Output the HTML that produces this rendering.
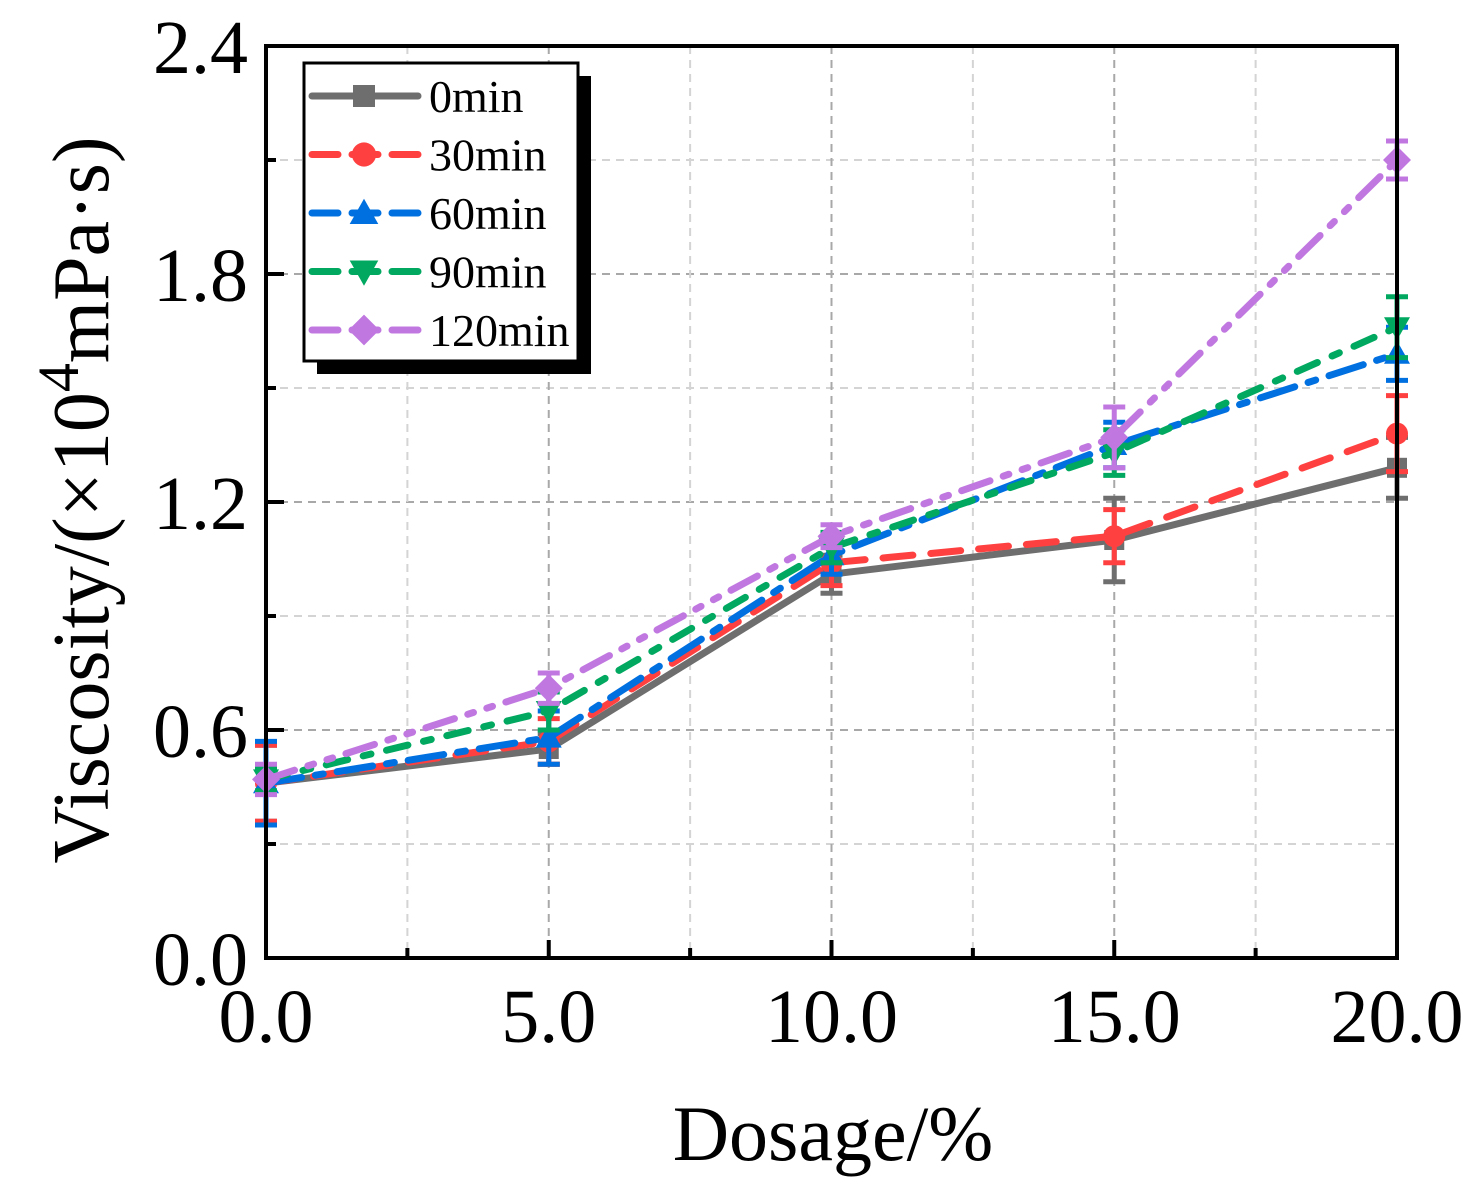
<!DOCTYPE html>
<html><head><meta charset="utf-8"><style>
html,body{margin:0;padding:0;background:#fff}
svg{display:block;font-family:"Liberation Serif",serif}
</style></head><body>
<svg id="chart" width="1480" height="1201" viewBox="0 0 1480 1201">
<g id="grid"></g>
<g id="series"></g>
<g id="axes"></g>
<text x="833" y="1160" font-size="78" text-anchor="middle">Dosage/%</text>
<text transform="translate(108,500) rotate(-90)" font-size="80" text-anchor="middle">Viscosity/(×10<tspan dy="-30" font-size="58">4</tspan><tspan dy="30">mPa·s)</tspan></text>
<g id="legend"></g>
</svg>
<script>
const xValues=[0,5,10,15,20];
const seriesNames=["0min","30min","60min","90min","120min"];
const s0=[0.46,0.55,1.01,1.10,1.29];
const s30=[0.46,0.57,1.04,1.11,1.38];
const s60=[0.46,0.58,1.06,1.35,1.59];
const s90=[0.47,0.65,1.08,1.33,1.66];
const s120=[0.47,0.71,1.11,1.37,2.10];
const e0=[0.10,0.04,0.05,0.11,0.08];
const e30=[0.10,0.06,0.06,0.07,0.10];
const e60=[0.11,0.07,0.05,0.06,0.07];
const e90=[0.03,0.05,0.04,0.06,0.08];
const e120=[0.04,0.04,0.03,0.08,0.05];
const xTicks=["0.0","5.0","10.0","15.0","20.0"];
const yTicks=["0.0","0.6","1.2","1.8","2.4"];

const L=266,R=1397,T=46,B=958;
const X=v=>L+(v/20)*(R-L);
const Y=v=>B-(v/2.4)*(B-T);
const NS="http://www.w3.org/2000/svg";
function mk(tag,attrs,parent){const e=document.createElementNS(NS,tag);for(const k in attrs)e.setAttribute(k,attrs[k]);parent.appendChild(e);return e;}
const grid=document.getElementById('grid'),axes=document.getElementById('axes'),ser=document.getElementById('series'),leg=document.getElementById('legend');

for(let i=1;i<8;i++){const v=i*0.3;const major=i%2==0;
 const g=mk('line',{x1:L,x2:R,y1:Y(v),y2:Y(v),stroke:major?'#a8a8a8':'#d4d4d4','stroke-width':2,'stroke-dasharray':'8,6'},grid);
 }
for(let i=1;i<8;i++){const v=i*2.5;const major=i%2==0;
 const g=mk('line',{x1:X(v),x2:X(v),y1:T,y2:B,stroke:major?'#a8a8a8':'#d4d4d4','stroke-width':2,'stroke-dasharray':'8,6'},grid);
 }

const colors=["#6e6e6e","#ff4040","#0070e0","#00a860","#c078e0"];
const dashes=["none","30,18","36,14,8,14","22,16,8,16","30,14,6,14,6,14"];
const data=[s0,s30,s60,s90,s120],errs=[e0,e30,e60,e90,e120];
function marker(k,x,y,parent,sz){const c=colors[k];let m;
 if(k==0)m=mk('rect',{x:x-sz,y:y-sz,width:2*sz,height:2*sz,fill:c},parent);
 else if(k==1)m=mk('circle',{cx:x,cy:y,r:sz*1.1,fill:c},parent);
 else if(k==2)m=mk('polygon',{points:`${x},${y-sz*1.3} ${x-sz*1.3},${y+sz} ${x+sz*1.3},${y+sz}`,fill:c},parent);
 else if(k==3)m=mk('polygon',{points:`${x},${y+sz*1.3} ${x-sz*1.3},${y-sz} ${x+sz*1.3},${y-sz}`,fill:c},parent);
 else m=mk('polygon',{points:`${x},${y-sz*1.4} ${x+sz*1.4},${y} ${x},${y+sz*1.4} ${x-sz*1.4},${y}`,fill:c},parent);
 return m;}
data.forEach((d,k)=>{
 const g=mk('g',{},ser);
 const p=mk('polyline',{points:d.map((v,i)=>X(xValues[i])+','+Y(v)).join(' '),fill:'none',stroke:colors[k],'stroke-width':7,'stroke-linecap':'round','stroke-dasharray':dashes[k]},g);
 
 d.forEach((v,i)=>{const x=X(xValues[i]),e=errs[k][i];
  const eb=mk('path',{d:`M${x},${Y(v+e)}V${Y(v-e)}M${x-11},${Y(v+e)}H${x+11}M${x-11},${Y(v-e)}H${x+11}`,stroke:colors[k],'stroke-width':5,fill:'none'},g);
  
  const m=marker(k,x,Y(v),g,10);
  });
});

const ax=mk('rect',{x:L,y:T,width:R-L,height:B-T,fill:'none',stroke:'#000','stroke-width':4},axes);

for(let i=0;i<=8;i++){const v=i*0.3,len=i%2==0?18:10;
 mk('line',{x1:L,x2:L+len,y1:Y(v),y2:Y(v),stroke:'#000','stroke-width':4},axes);}
for(let i=0;i<=8;i++){const v=i*2.5,len=i%2==0?18:10;
 mk('line',{x1:X(v),x2:X(v),y1:B,y2:B-len,stroke:'#000','stroke-width':4},axes);}
yTicks.forEach((t,i)=>{const tx=mk('text',{x:248,y:Y(i*0.6)+27,'font-size':76,'text-anchor':'end'},axes);tx.textContent=t;
 });
xTicks.forEach((t,i)=>{const tx=mk('text',{x:X(i*5),y:1042,'font-size':76,'text-anchor':'middle'},axes);tx.textContent=t;
 });

mk('rect',{x:317,y:76,width:274,height:298,fill:'#000'},leg);
mk('rect',{x:304,y:63,width:274,height:298,fill:'#fff',stroke:'#000','stroke-width':3},leg);
seriesNames.forEach((n,k)=>{const y=96+k*58.5;
 const g=mk('g',{},leg);
 mk('line',{x1:312,x2:418,y1:y,y2:y,stroke:colors[k],'stroke-width':7,'stroke-linecap':'round','stroke-dasharray':dashes[k]==='none'?'none':'26,14'},g);
 marker(k,364,y,g,11);
 const t=mk('text',{x:429,y:y+16,'font-size':46},g);t.textContent=n;});
</script>
</body></html>
